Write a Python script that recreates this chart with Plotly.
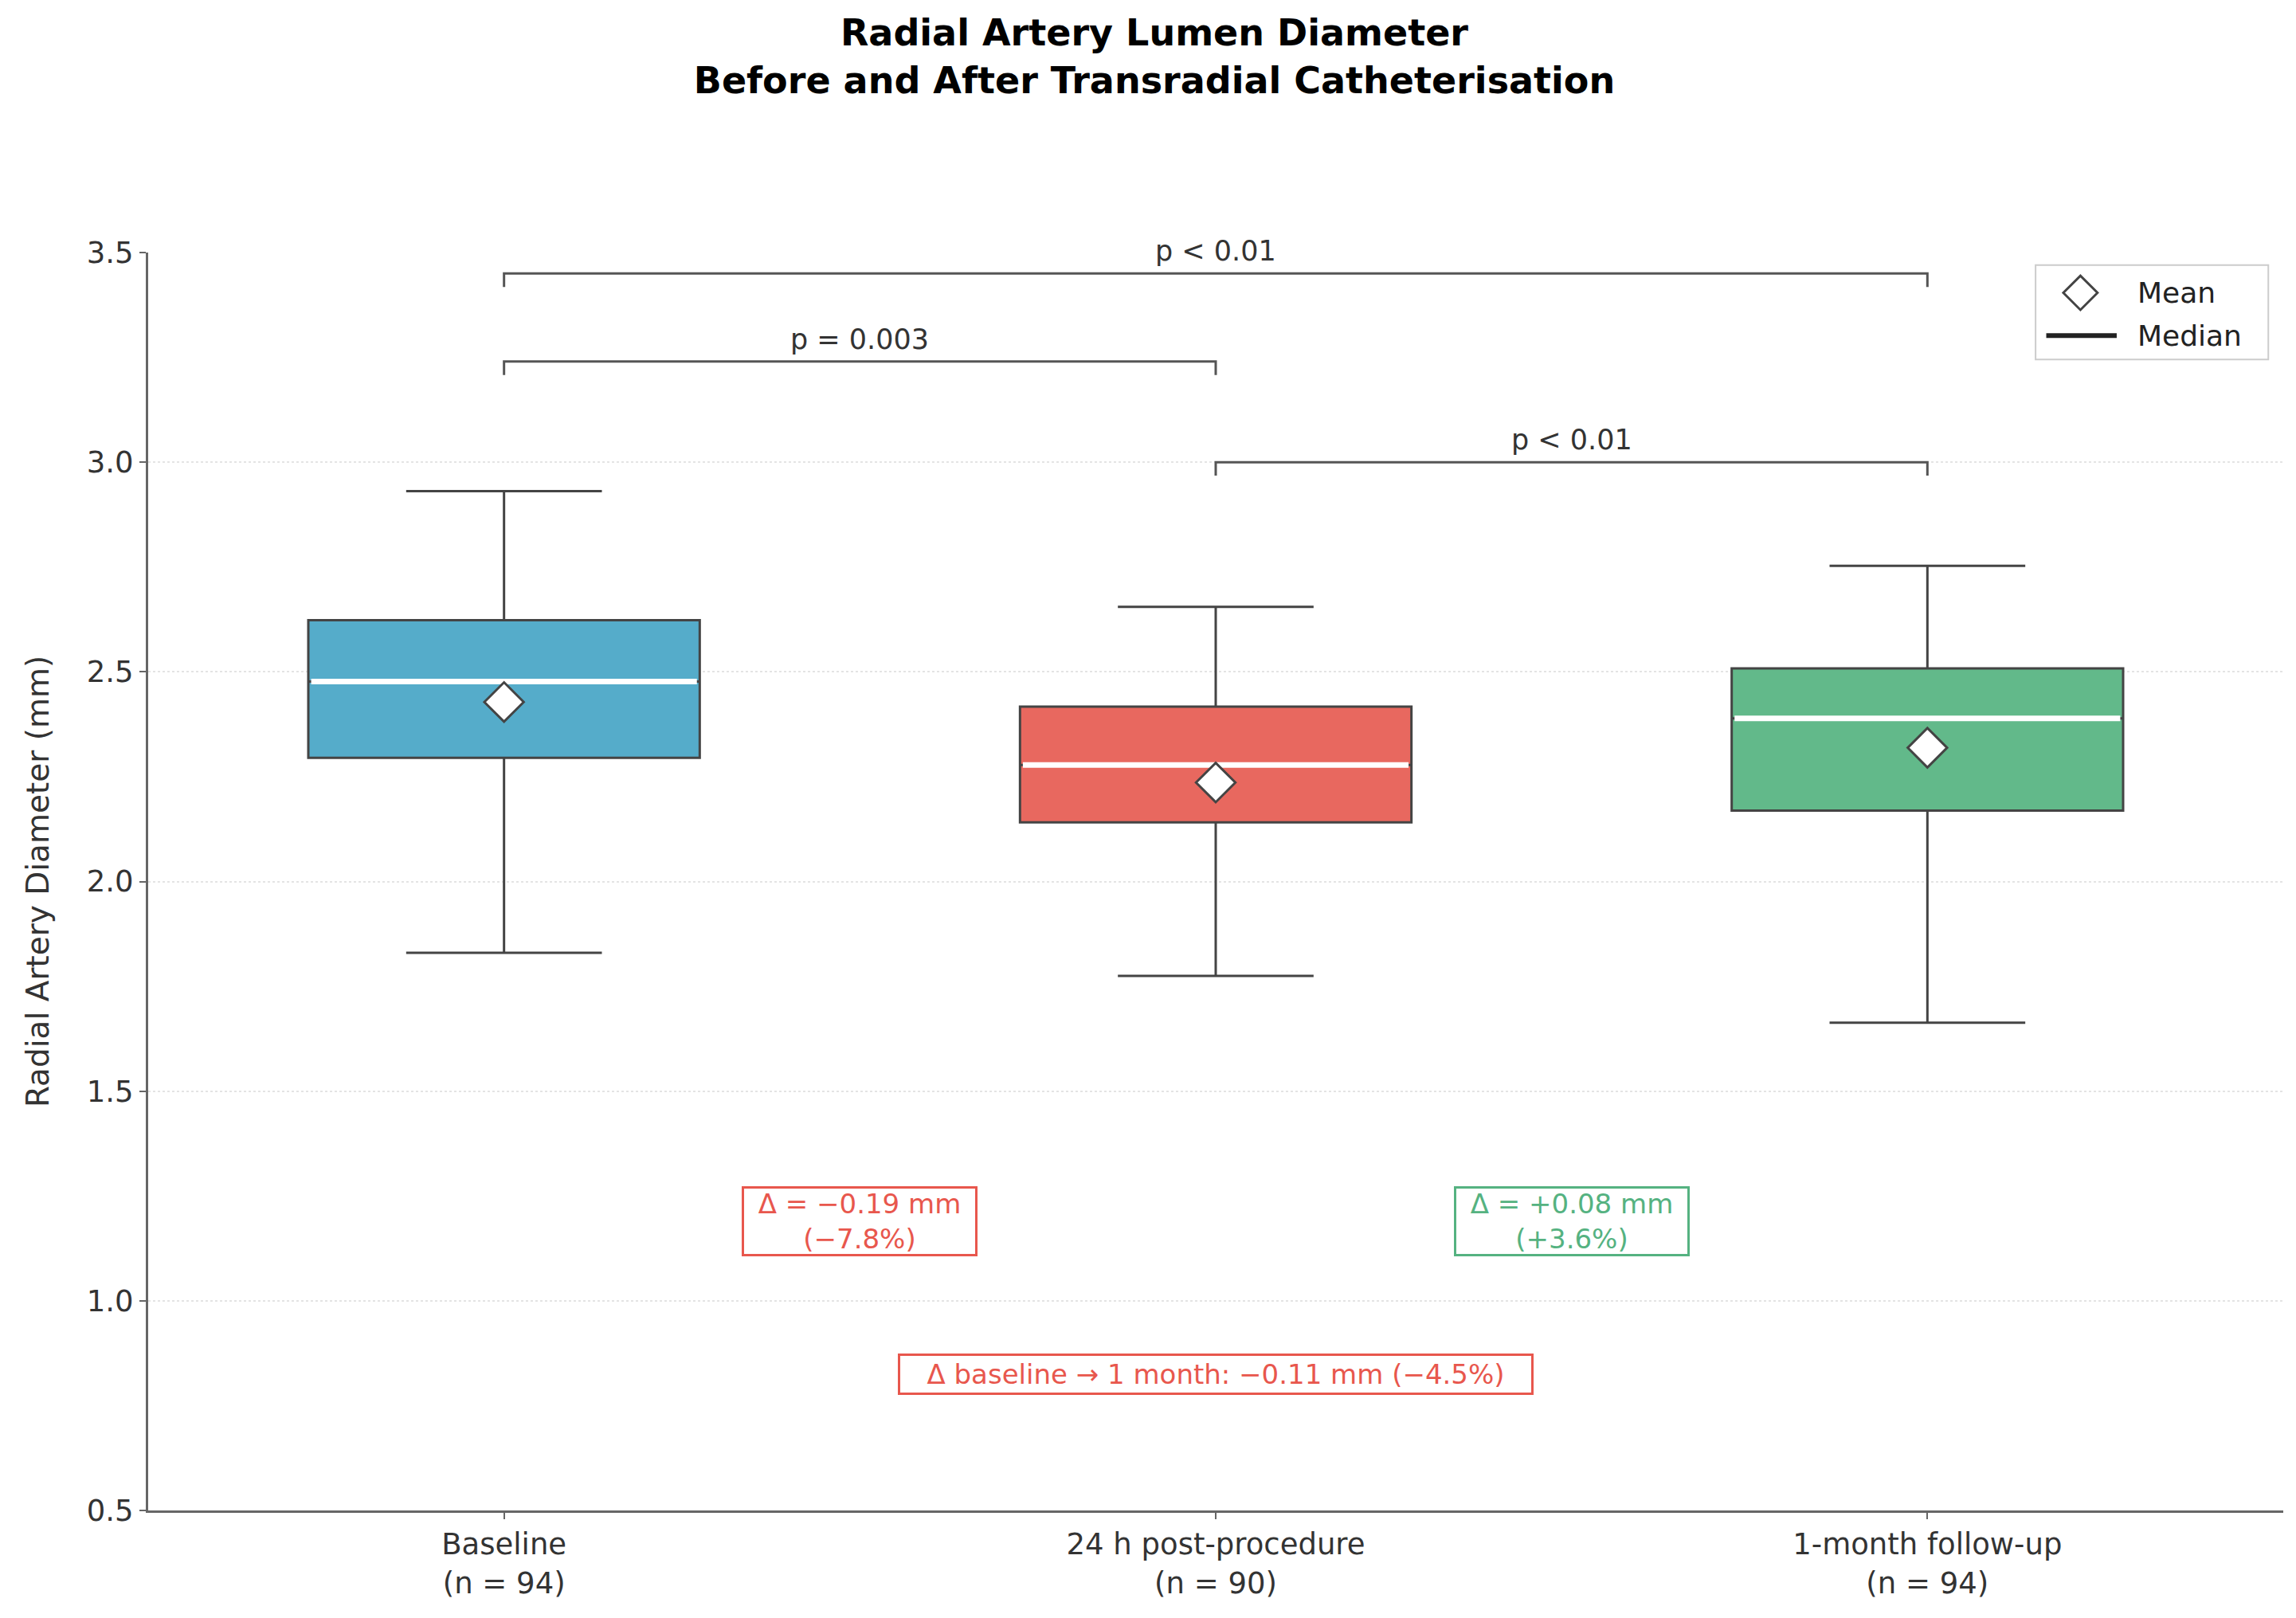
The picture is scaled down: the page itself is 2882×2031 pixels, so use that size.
import plotly.graph_objects as go

# summary statistics (mm)
groups = ["Baseline", "24 h post-procedure", "1-month follow-up"]
n_obs = [94, 90, 94]
q1 = [2.295, 2.141, 2.169]
median = [2.477, 2.278, 2.389]
q3 = [2.623, 2.417, 2.508]
lower_whisker = [1.830, 1.775, 1.663]
upper_whisker = [2.931, 2.655, 2.753]
mean = [2.428, 2.236, 2.319]

box_colors = ["#55acca", "#e8685f", "#62b98a"]

# significance brackets: (left group, right group, height, label)
bracket_left = [0, 0, 1]
bracket_right = [2, 1, 2]
bracket_y = [3.45, 3.24, 3.0]
bracket_labels = ["p < 0.01", "p = 0.003", "p < 0.01"]

# change annotations
delta_x = [0.5, 1.5, 1.0]
delta_y = [1.19, 1.19, 0.825]
delta_text = ["Δ = −0.19 mm<br>(−7.8%)", "Δ = +0.08 mm<br>(+3.6%)",
              "Δ baseline → 1 month: −0.11 mm (−4.5%)"]
delta_colors = ["#e8574d", "#55b281", "#e8574d"]
delta_box_w = [284, 284, 786]
delta_box_h = [76, 76, 40]

box_width = 0.55
tick_drop = 0.032
edge = "#444444"

fig = go.Figure()

for i, g in enumerate(groups):
    fig.add_trace(go.Box(
        x=[i], q1=[q1[i]], median=[median[i]], q3=[q3[i]],
        lowerfence=[lower_whisker[i]], upperfence=[upper_whisker[i]],
        width=box_width, whiskerwidth=0.5, boxpoints=False,
        fillcolor=box_colors[i], line=dict(color=edge, width=3),
        showlegend=False, hoverinfo="skip"))
    # white median line over the box
    fig.add_trace(go.Scatter(
        x=[i - box_width / 2 + 0.004, i + box_width / 2 - 0.004],
        y=[median[i], median[i]], mode="lines",
        line=dict(color="white", width=7), showlegend=False, hoverinfo="skip"))

fig.add_trace(go.Scatter(
    x=list(range(len(groups))), y=mean, mode="markers",
    marker=dict(symbol="diamond", size=38, color="white", line=dict(color=edge, width=3)),
    showlegend=False, hoverinfo="skip"))

for a, b, h, lab in zip(bracket_left, bracket_right, bracket_y, bracket_labels):
    fig.add_trace(go.Scatter(
        x=[a, a, b, b], y=[h - tick_drop, h, h, h - tick_drop], mode="lines",
        line=dict(color="#555555", width=3), showlegend=False, hoverinfo="skip"))
    fig.add_annotation(x=(a + b) / 2, y=h, text=lab, showarrow=False,
                       yanchor="bottom", yshift=6,
                       font=dict(family="DejaVu Sans", size=35, color="#333333"))

for x, y, t, c, w, h in zip(delta_x, delta_y, delta_text, delta_colors, delta_box_w, delta_box_h):
    fig.add_annotation(x=x, y=y, text=t, showarrow=False, width=w, height=h,
                       align="center", valign="middle",
                       font=dict(family="DejaVu Sans", size=34, color=c),
                       bgcolor="white", bordercolor=c, borderwidth=3, borderpad=3)

# legend key drawn on a hidden overlay axis spanning the plot area
fig.add_shape(type="rect", xref="paper", yref="paper", x0=0.884, x1=0.993, y0=0.915, y1=0.990,
              line=dict(color="#cccccc", width=2), fillcolor="white", layer="below")
fig.add_trace(go.Scatter(
    x=[0.905], y=[0.968], xaxis="x2", yaxis="y2", mode="markers",
    marker=dict(symbol="diamond", size=33, color="white", line=dict(color=edge, width=3)),
    showlegend=False, hoverinfo="skip"))
fig.add_trace(go.Scatter(
    x=[0.889, 0.922], y=[0.934, 0.934], xaxis="x2", yaxis="y2", mode="lines",
    line=dict(color="#222222", width=6), showlegend=False, hoverinfo="skip"))
for name, ly in [("Mean", 0.968), ("Median", 0.934)]:
    fig.add_annotation(x=0.931, y=ly, xref="paper", yref="paper", text=name,
                       showarrow=False, xanchor="left", yanchor="middle",
                       font=dict(family="DejaVu Sans", size=36, color="#222222"))

fig.update_layout(
    width=2882, height=2031,
    paper_bgcolor="white", plot_bgcolor="white",
    margin=dict(l=178, r=24, t=309, b=143),
    font=dict(family="DejaVu Sans", color="#333333"),
    showlegend=False,
    title=dict(text="<b>Radial Artery Lumen Diameter<br>Before and After Transradial Catheterisation</b>",
               x=0.5, xanchor="center", y=0.976, yanchor="top", yref="container",
               font=dict(family="DejaVu Sans", size=46, color="black")),
    xaxis=dict(
        range=[-0.5, 2.5], tickvals=list(range(len(groups))),
        ticktext=[f"{g}<br>(n = {n})" for g, n in zip(groups, n_obs)],
        showline=True, linecolor="#666666", linewidth=3,
        ticks="outside", ticklen=8, tickwidth=2, tickcolor="#666666",
        tickfont=dict(size=37, color="#333333"), showgrid=False, zeroline=False),
    yaxis=dict(
        range=[0.5, 3.5], tickvals=[0.5, 1.0, 1.5, 2.0, 2.5, 3.0, 3.5],
        ticktext=["0.5", "1.0", "1.5", "2.0", "2.5", "3.0", "3.5"],
        showline=True, linecolor="#666666", linewidth=3,
        ticks="outside", ticklen=8, tickwidth=2, tickcolor="#666666",
        tickfont=dict(size=37, color="#333333"),
        showgrid=True, gridcolor="#e4e4e4", gridwidth=2, griddash="dot", zeroline=False,
        title=dict(text="Radial Artery Diameter (mm)", standoff=36,
                   font=dict(size=39, color="#333333"))),
    xaxis2=dict(overlaying="x", range=[0, 1], visible=False, fixedrange=True),
    yaxis2=dict(overlaying="y", range=[0, 1], visible=False, fixedrange=True),
)

fig.write_html("out.html")
